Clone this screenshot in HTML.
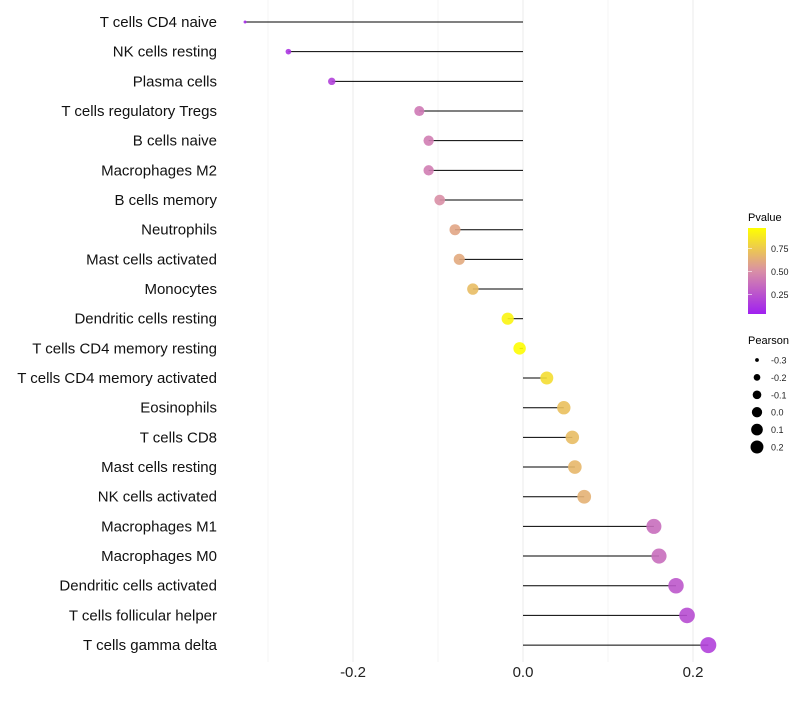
<!DOCTYPE html>
<html><head><meta charset="utf-8"><style>
body{margin:0;background:#fff;font-family:"Liberation Sans",sans-serif}
</style></head><body>
<svg id="c" width="800" height="700" xmlns="http://www.w3.org/2000/svg">
<defs><linearGradient id="pg" x1="0" y1="1" x2="0" y2="0">
<stop offset="0" stop-color="#A020F0"/><stop offset="0.5" stop-color="#D98FA6"/><stop offset="1" stop-color="#FFFF00"/></linearGradient></defs>
<g id="grid"></g><g id="marks"></g><g id="labels"></g>
<g font-size="10">
<text x="748" y="221" font-size="11">Pvalue</text>
<rect x="748" y="228" width="18" height="86" fill="url(#pg)"/>
<g id="pleg"></g>
<text x="748" y="344" font-size="11">Pearson</text>
<g id="sleg"></g>
</g>
</svg>
<script>
const categories=["T cells CD4 naive","NK cells resting","Plasma cells","T cells regulatory  Tregs ","B cells naive","Macrophages M2","B cells memory","Neutrophils","Mast cells activated","Monocytes","Dendritic cells resting","T cells CD4 memory resting","T cells CD4 memory activated","Eosinophils","T cells CD8","Mast cells resting","NK cells activated","Macrophages M1","Macrophages M0","Dendritic cells activated","T cells follicular helper","T cells gamma delta"];
const pearson=[-0.327,-0.276,-0.225,-0.122,-0.111,-0.111,-0.098,-0.080,-0.075,-0.059,-0.018,-0.004,0.028,0.048,0.058,0.061,0.072,0.154,0.160,0.180,0.193,0.218];
const pvalue=[0.05,0.1,0.15,0.4,0.42,0.42,0.5,0.6,0.62,0.7,0.95,0.99,0.85,0.72,0.7,0.68,0.65,0.35,0.35,0.25,0.2,0.15];
const xTicks=[-0.2,0.0,0.2];
const xMinor=[-0.3,-0.1,0.1];
const pTicks=[0.25,0.5,0.75];
const sizeLeg=[-0.3,-0.2,-0.1,0.0,0.1,0.2];
const NS="http://www.w3.org/2000/svg";
const x=v=>523+v*850;
const y=i=>22+i*29.67;
const r=v=>Math.sqrt(Math.max(2,39.3+113.3*v));
function lerp(a,b,t){return a.map((c,k)=>Math.round(c+(b[k]-c)*t));}
function col(p){const A=[160,32,240],M=[217,143,166],B=[255,255,0];const c=p<0.5?lerp(A,M,p/0.5):lerp(M,B,(p-0.5)/0.5);return `rgb(${c})`;}
function mk(t,a,parent){const e=document.createElementNS(NS,t);for(const k in a)e.setAttribute(k,a[k]);document.getElementById(parent).appendChild(e);return e;}
xMinor.forEach(v=>{const e=mk('line',{x1:x(v),x2:x(v),y1:0,y2:662,stroke:'#f3f3f3','stroke-width':0.8},'grid');

});
xTicks.forEach(v=>{const e=mk('line',{x1:x(v),x2:x(v),y1:0,y2:662,stroke:'#ebebeb','stroke-width':1},'grid');


const t=mk('text',{x:x(v),y:677,'text-anchor':'middle','font-size':15,fill:'#222'},'labels');t.textContent=v.toFixed(1);

});
categories.forEach((c,i)=>{
const l=mk('line',{x1:x(0),x2:x(pearson[i]),y1:y(i),y2:y(i),stroke:'#000','stroke-width':1},'marks');


const p=mk('circle',{cx:x(pearson[i]),cy:y(i),r:r(pearson[i]),fill:col(pvalue[i]),'fill-opacity':0.9},'marks');


const t=mk('text',{x:217,y:y(i)+5,'text-anchor':'end','font-size':15,fill:'#111'},'labels');t.textContent=c;

});
pTicks.forEach(p=>{const yy=313-(p-0.05)/0.92*85;
const l=mk('line',{x1:748,x2:752,y1:yy,y2:yy,stroke:'#fff','stroke-width':0.6},'pleg');


const t=mk('text',{x:771,y:yy+3.5,'font-size':9,fill:'#222'},'pleg');t.textContent=p.toFixed(2);

});
sizeLeg.forEach((v,i)=>{const yy=360+i*17.4;
const c=mk('circle',{cx:757,cy:yy,r:r(v)*0.82,fill:'#000'},'sleg');


const t=mk('text',{x:771,y:yy+3.5,'font-size':9,fill:'#222'},'sleg');t.textContent=v.toFixed(1);

});
</script>
</body></html>
